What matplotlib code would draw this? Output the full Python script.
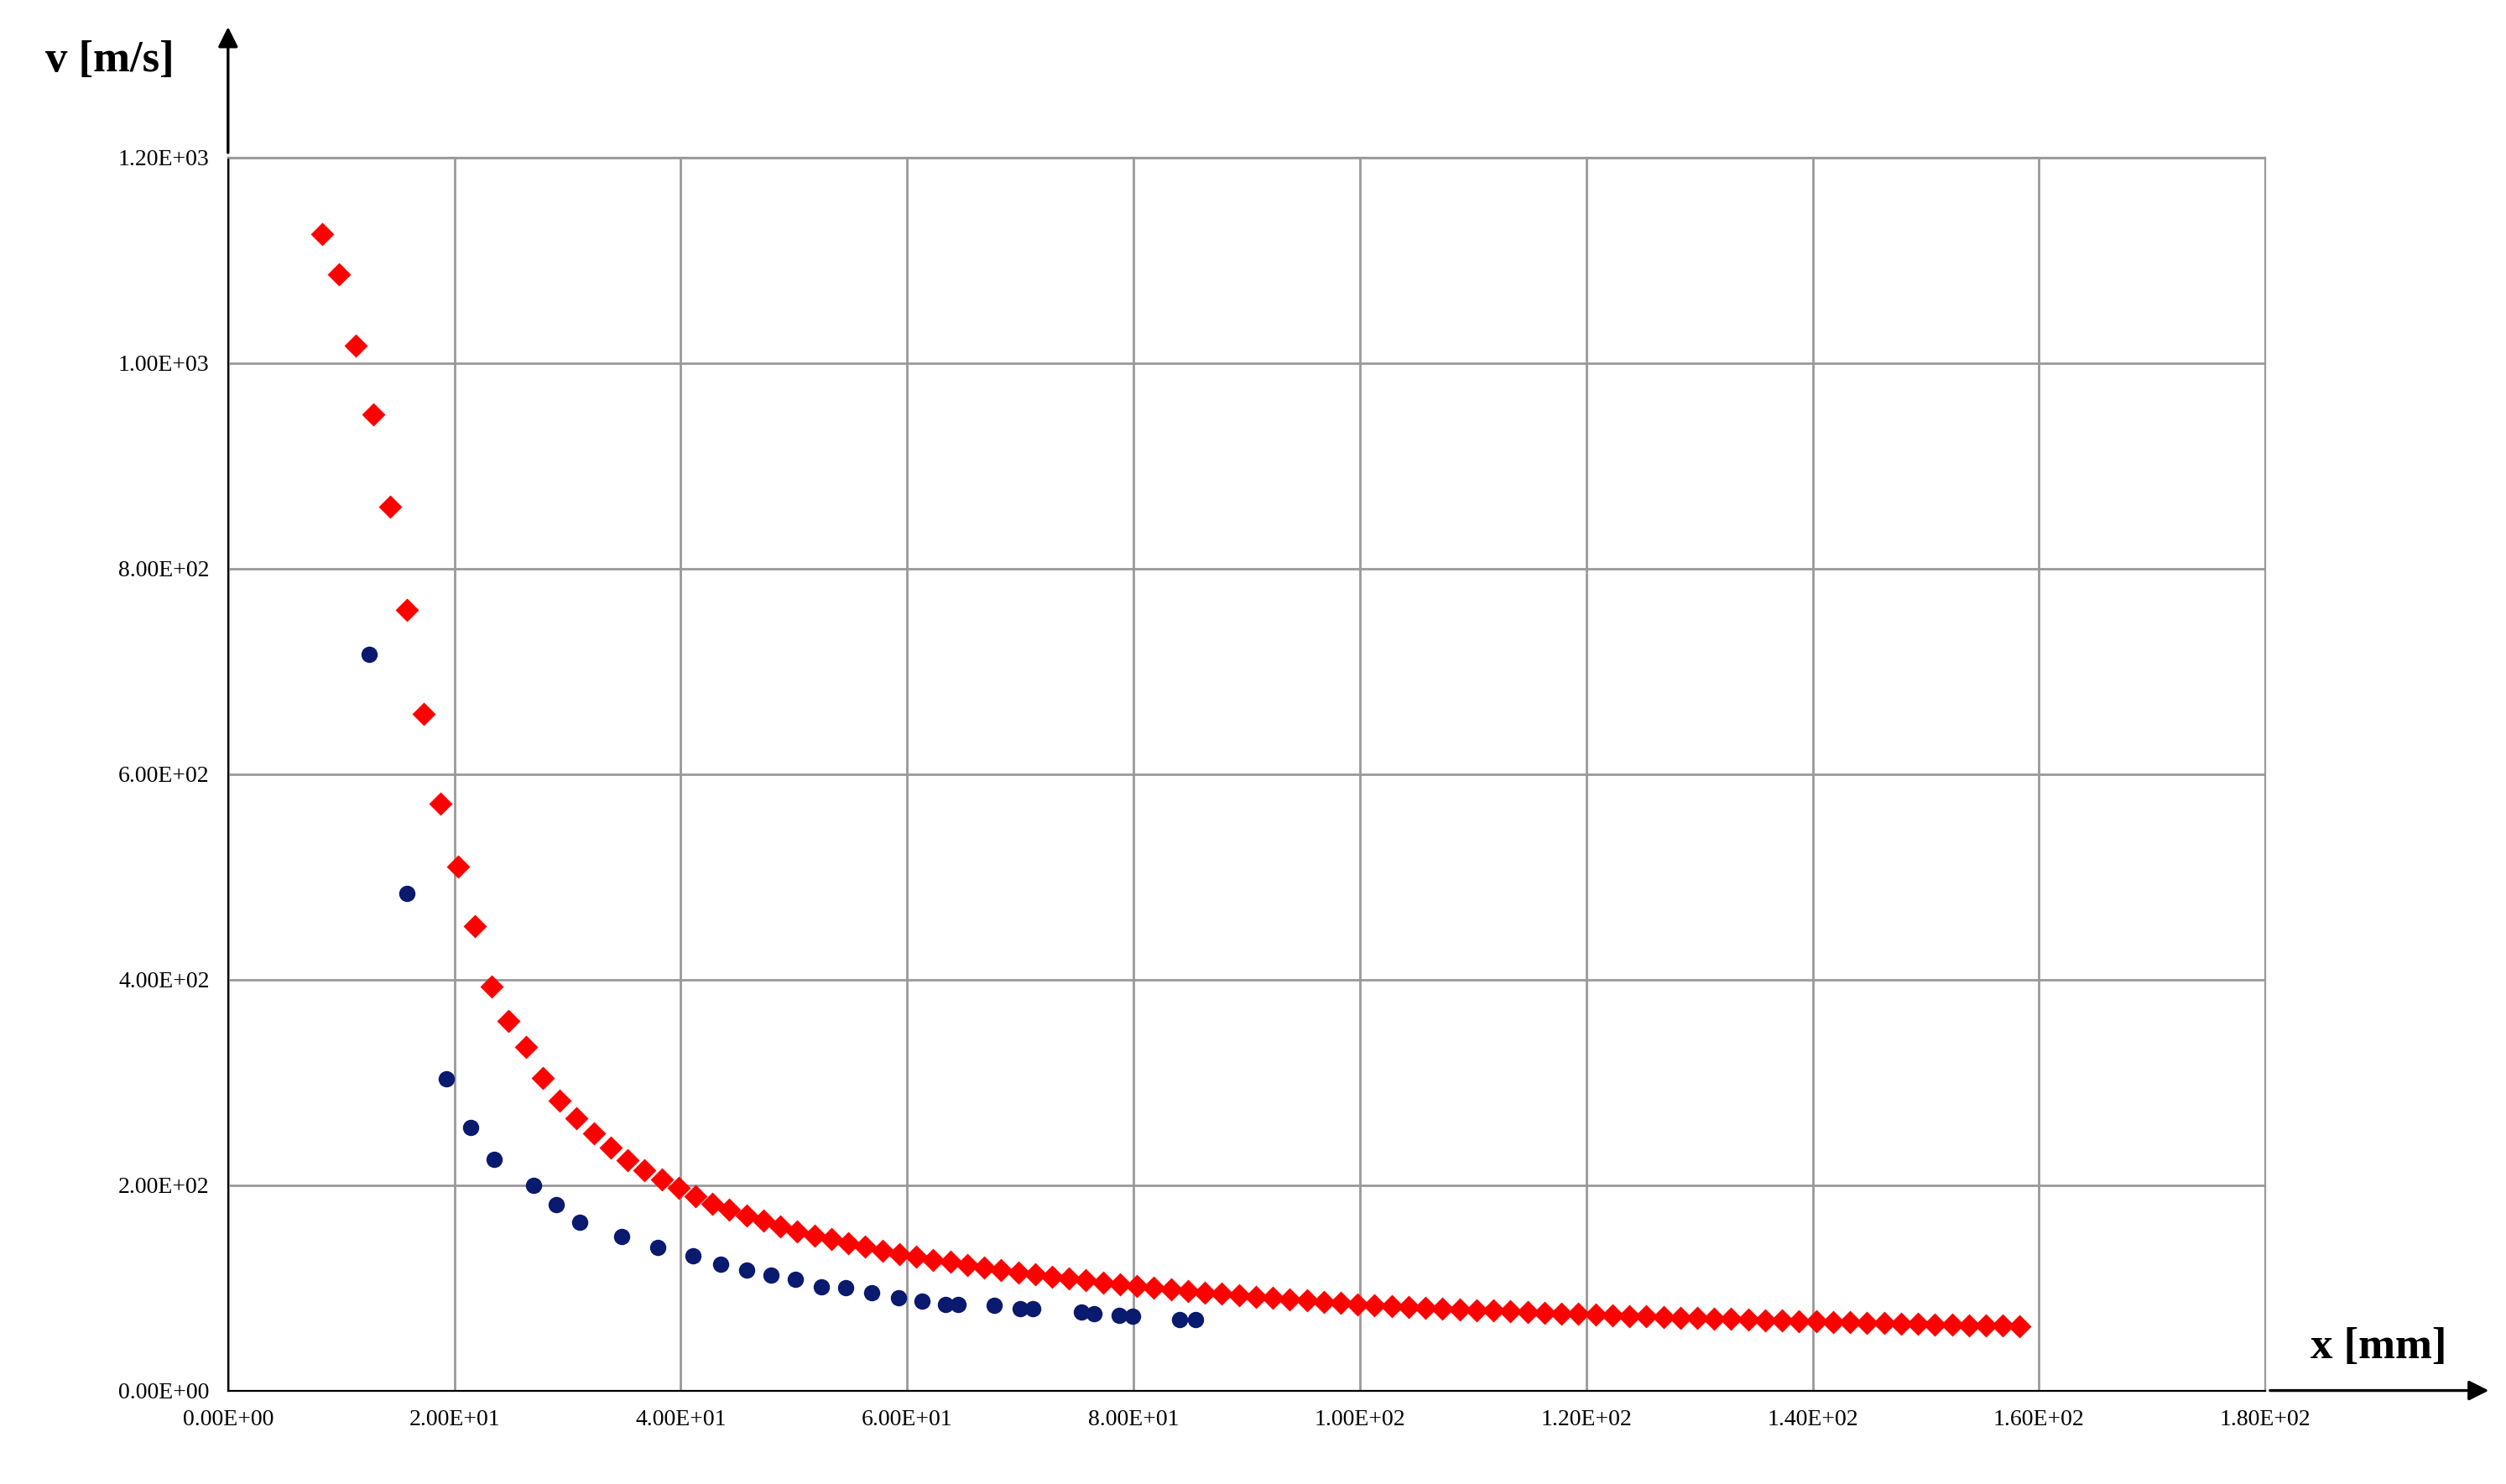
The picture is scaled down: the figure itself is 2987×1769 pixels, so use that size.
import matplotlib.pyplot as plt

# Red series (diamonds)
red_x = [8.3, 9.8, 11.3, 12.8, 14.3, 15.8, 17.3, 18.8, 20.3, 21.8, 23.3, 24.8, 26.3, 27.8, 29.3,
         30.8, 32.3, 33.8, 35.3, 36.8, 38.3, 39.8, 41.3, 42.8, 44.3, 45.8, 47.3, 48.8, 50.3, 51.8,
         53.3, 54.8, 56.3, 57.8, 59.3, 60.8, 62.3, 63.8, 65.3, 66.8, 68.3, 69.8, 71.3, 72.8, 74.3,
         75.8, 77.3, 78.8, 80.3, 81.8, 83.3, 84.8, 86.3, 87.8, 89.3, 90.8, 92.3, 93.8, 95.3, 96.8,
         98.3, 99.8, 101.3, 102.8, 104.3, 105.8, 107.3, 108.8, 110.3, 111.8, 113.3, 114.8, 116.3,
         117.8, 119.3, 120.8, 122.3, 123.8, 125.3, 126.8, 128.3, 129.8, 131.3, 132.8, 134.3, 135.8,
         137.3, 138.8, 140.3, 141.8, 143.3, 144.8, 146.3, 147.8, 149.3, 150.8, 152.3, 153.8, 155.3,
         156.8, 158.3]
red_y = [1125, 1086, 1017, 950, 860, 760, 658, 571, 510, 452, 393, 360, 334, 304, 282,
         265, 250, 236, 224, 214, 205, 197, 189, 182, 176, 170, 165, 160, 155, 151,
         147, 143, 140, 136, 133, 130, 127, 125, 122, 120, 117, 115, 113, 111, 109,
         107, 105, 103, 102, 100, 98.5, 97, 95.5, 94, 92.5, 91, 90, 88.5, 87.5, 86,
         85, 84, 83.2, 82.3, 81.5, 80.7, 79.9, 79.1, 78.4, 77.7, 77.0, 76.3, 75.6,
         75.0, 74.4, 73.8, 73.2, 72.6, 72.0, 71.5, 71.0, 70.5, 70.0, 69.5, 69.0,
         68.5, 68.0, 67.6, 67.2, 66.8, 66.4, 66.0, 65.6, 65.2, 64.8, 64.4, 64.0,
         63.7, 63.4, 63.1, 62.8]

# Blue series (circles)
blue_x = [12.5, 15.8, 19.3, 21.4, 23.5, 27.0, 29.0, 31.1, 34.8, 38.0, 41.1, 43.5, 45.8, 48.0,
          50.1, 52.4, 54.6, 56.9, 59.2, 61.3, 63.4, 64.5, 67.7, 70.0, 71.1, 75.4, 76.5, 78.7,
          79.9, 84.1, 85.5]
blue_y = [716, 484, 303, 256, 225, 200, 181, 164, 150, 139, 131, 123, 117, 112,
          108, 101, 100, 95, 90, 87, 84, 84, 83, 80, 80, 76, 75, 73,
          72, 69, 69]

x_ticks = [0, 20, 40, 60, 80, 100, 120, 140, 160, 180]
x_labels = ["0.00E+00", "2.00E+01", "4.00E+01", "6.00E+01", "8.00E+01", "1.00E+02",
            "1.20E+02", "1.40E+02", "1.60E+02", "1.80E+02"]
y_ticks = [0, 200, 400, 600, 800, 1000, 1200]
y_labels = ["0.00E+00", "2.00E+02", "4.00E+02", "6.00E+02", "8.00E+02", "1.00E+03", "1.20E+03"]

fig = plt.figure(figsize=(14.935, 8.845), dpi=200)
ax = fig.add_axes([0.091, 0.063, 0.813, 0.831])

ax.plot(red_x, red_y, "D", color="red", markersize=6, zorder=3, clip_on=False)
ax.plot(blue_x, blue_y, "o", color="#0a1a6e", markersize=6, zorder=3, clip_on=False)

ax.set_xlim(0, 180)
ax.set_ylim(0, 1200)
ax.set_xticks(x_ticks)
ax.set_xticklabels(x_labels, family="Liberation Serif", fontsize=10)
ax.set_yticks(y_ticks)
ax.set_yticklabels(y_labels, family="Liberation Serif", fontsize=10)
ax.tick_params(length=0, pad=8)
ax.grid(True, color="#999999", linewidth=1.0, zorder=0)
for side in ["top", "right"]:
    ax.spines[side].set_color("#999999")
ax.spines["left"].set_color("black")
ax.spines["bottom"].set_color("black")

# Axis arrows
ax.annotate("", xy=(0.091, 0.985), xytext=(0.091, 0.894), xycoords="figure fraction",
            arrowprops=dict(arrowstyle="-|>", color="black", lw=1.2, mutation_scale=18))
ax.annotate("", xy=(0.995, 0.063), xytext=(0.904, 0.063), xycoords="figure fraction",
            arrowprops=dict(arrowstyle="-|>", color="black", lw=1.2, mutation_scale=18))

fig.text(0.018, 0.952, "v [m/s]", family="Liberation Serif", fontweight="bold", fontsize=19)
fig.text(0.922, 0.085, "x [mm]", family="Liberation Serif", fontweight="bold", fontsize=19)

fig.savefig("out.png", dpi=200)
